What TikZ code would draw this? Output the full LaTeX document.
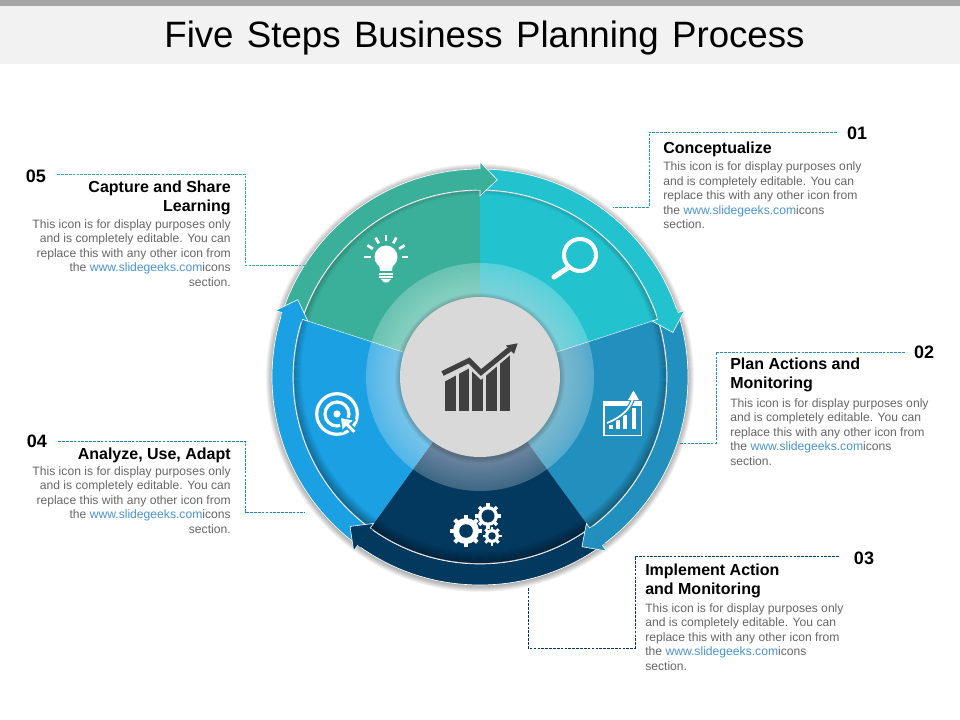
\documentclass[tikz,border=0pt]{standalone}
\usepackage{fontspec}
\setmainfont{Liberation Sans}
\usetikzlibrary{calc}
\definecolor{cteal}{HTML}{22C3CF}
\definecolor{cblue}{HTML}{2290BF}
\definecolor{cnavy}{HTML}{03395F}
\definecolor{csky}{HTML}{1AA0E3}
\definecolor{cgreen}{HTML}{3AAF9A}
\definecolor{bodygrey}{HTML}{666666}
\definecolor{linkblue}{HTML}{4A93CF}
\definecolor{chartgrey}{HTML}{404040}
\newcommand{\slink}{\textcolor{linkblue}{www.slidegeeks.com}icons}
\newcommand{\bodyL}{This icon is for display purposes only\\and is completely editable. You can\\replace this with any other icon from\\the \slink\\section.}
\tikzset{
  bodytext/.style={inner sep=0pt,text=bodygrey,font=\fontsize{9.1}{10.9}\selectfont},
  headtext/.style={inner sep=0pt,text=black,font=\fontsize{12}{14.3}\selectfont\bfseries},
  numtext/.style={inner sep=0pt,text=black,font=\fontsize{13.5}{15}\selectfont\bfseries},
  leader/.style={line width=0.6pt,dash pattern=on 2pt off 0.9pt},
  iconline/.style={draw=white,line cap=round},
}
\newcommand{\gearicon}[6]{% x y r tooth-r hole-r toothwidth
  \begin{scope}[shift={(#1,#2)}]
    \fill[white] (0,0) circle[radius=#3];
    \foreach \ga in {0,45,...,315}{\draw[white,line width=#6] (\ga:#3-1) -- (\ga:#4);}
    \fill[cnavy] (0,0) circle[radius=#5];
  \end{scope}}
\begin{document}
\begin{tikzpicture}[x=0.75pt,y=-0.75pt]
\useasboundingbox (0,0) rectangle (960,720);
\fill[white] (0,0) rectangle (960,720);
% title band
\fill[black!5] (0,6) rectangle (960,64);
\fill[black!35] (0,0) rectangle (960,6);
\node[anchor=base,inner sep=0pt,font=\fontsize{27.5}{30}\selectfont] (title) at (484.5,48) {\spaceskip=10pt Five Steps Business Planning Process};
% wheel
\begin{scope}[shift={(480,377)}]
\begin{scope}[y=0.75pt]
  % outer shadow
  \foreach \r in {214,213,...,208}{\fill[black,opacity=0.05] (0,-1) circle[radius=\r];}
  % arrow bands
  \foreach \a/\b/\c in {90/18/cteal,18/-54/cblue,-54/-126/cnavy,-126/-198/csky,162/90/cgreen}{
    \fill[\c] (\a:187) arc[start angle=\a,end angle=\b,radius=187] -- (\b:208) arc[start angle=\b,end angle=\a,radius=208] -- cycle;
  }
  \draw[white,line width=0.5pt] (0,0) circle[radius=208];
  % sectors
  \foreach \a/\b/\c in {90/18/cteal,18/-54/cblue,-54/-126/cnavy,-126/-198/csky,162/90/cgreen}{
    \fill[\c] (0,0) -- (\a:186) arc[start angle=\a,end angle=\b,radius=186] -- cycle;
  }
  % inner shadow of the band
  \begin{scope}
    \clip (0,0) circle[radius=186];
    \foreach \i in {0,1,...,11}{
      \pgfmathsetmacro{\op}{0.32*(1-\i/12)}
      \pgfmathsetmacro{\rr}{190-\i}
      \draw[black,opacity=\op,line width=0.85pt] (0,4) circle[radius=\rr];
    }
  \end{scope}
  \draw[white,line width=0.5pt] (0,0) circle[radius=187];
  % separators
  \draw[white,line width=0.4pt,opacity=0.8] (18:80) -- (18:186);
  \draw[white,line width=0.4pt,opacity=0.8] (162:80) -- (162:186);
  % translucent ring
  \fill[white,opacity=0.24] (0,0) circle[radius=114];
  \foreach \r in {112,110,...,82}{\fill[white,opacity=0.02] (0,0) circle[radius=\r];}
  \foreach \r in {85,84,...,81}{\fill[black,opacity=0.04] (0,-1) circle[radius=\r];}
  % centre
  \fill[black!15] (0,0) circle[radius=80];
  % arrow heads
  \foreach \b/\c in {18/cteal,-54/cblue,-126/cnavy,162/csky,90/cgreen}{
    \pgfmathsetmacro{\t}{\b-5}
    \fill[\c] (\b:181) -- (\t:198) -- (\b:215) -- cycle;
    \fill[\c] (\b:187) arc[start angle=\b,end angle=\b+1,radius=187] -- (\b+1:208) arc[start angle=\b+1,end angle=\b,radius=208] -- cycle;
    \draw[white,line width=0.45pt,line join=miter] (\b:187) -- (\b:181) -- (\t:198) -- (\b:215) -- (\b:208);
  }
\end{scope}
\end{scope}
% centre chart icon
\begin{scope}
  \clip (440,381.5) -- (445,381.5) -- (469,368.5) -- (481,380) -- (511,354.5) -- (511,411) -- (440,411) -- cycle;
  \foreach \bx in {445,458.7,472.3,486,499.7}{\fill[chartgrey] (\bx,350) rectangle (\bx+10.7,410.7);}
\end{scope}
\draw[chartgrey,line width=3.8pt] (442.5,373.5) -- (469,360.5) -- (481,372.5) -- (511,348);
\fill[chartgrey] (517.7,343.3) -- (506,345.5) -- (514,354) -- cycle;
% bulb
\fill[white] (386,257) circle[radius=11.5];
\fill[white] (379,264) -- (393,264) -- (392,271) -- (380,271) -- cycle;
\foreach \yy in {272.6,275.9}{\fill[white] (379,\yy) rectangle (393,\yy+2);}
\fill[white] (381,279) -- (391,279) -- (388,282.5) -- (384,282.5) -- cycle;
\foreach \a in {0,32,62,90,118,148,180}{\draw[white,line width=2pt,shift={(386,257)}] (-\a:15.5) -- (-\a:22);}
% magnifier
\draw[white,line width=3pt] (580,255) circle[radius=16];
\draw[iconline,line width=3.8pt] (569,267) -- (554,277);
% chart tile
\draw[white,line width=1.3pt] (604,402) rectangle (641.5,435.5);
\fill[white] (603,401) rectangle (642,406);
\foreach \bx/\by in {609/425,616/420,623/415,632/408}{\fill[white] (\bx,\by) rectangle (\bx+4.2,429);}
\draw[cblue,line width=3pt] (607,423) .. controls (622,417) and (631,408) .. (633,398);
\draw[white,line width=1.3pt] (607,423) .. controls (622,417) and (631,408) .. (633,398);
\fill[white] (633.5,390.5) -- (628,400) -- (639,400) -- cycle;
% gears
\gearicon{466}{531}{13}{16}{6.8}{3pt}
\gearicon{488}{516}{10}{12.7}{6.5}{2.6pt}
\gearicon{492}{536}{7}{9.5}{3.8}{2.2pt}
% target
\draw[white,line width=2.4pt] (337,414) circle[radius=20.3];
\draw[white,line width=2.4pt] (337,414) circle[radius=12];
\fill[white] (337,414) circle[radius=3.6];
\fill[white,draw=csky,line width=1.2pt,line join=round] (340,417) -- (342,432) -- (346,427) -- (353,434) -- (357,431) -- (350,424) -- (355,420) -- cycle;
% panel 01
\node[numtext,anchor=center] (n1) at (857,133) {01};
\node[headtext,anchor=base west] (h1) at (663,154) {Conceptualize};
\node[bodytext,anchor=north west,align=left] (b1) at (663,161.5) {\bodyL};
\coordinate (e1) at (613,207);
\draw[leader,draw=cteal!80!black] (n1.west)++(-10,-1) -- (649,132) -- (649,207) -- (e1);
% panel 02
\node[numtext,anchor=center] (n2) at (924,352) {02};
\node[headtext,anchor=north west,align=left] (h2) at (730,358) {Plan Actions and\\Monitoring};
\node[bodytext,anchor=north west,align=left] (b2) at (730,398) {\bodyL};
\coordinate (e2) at (680,443);
\draw[leader,draw=cblue] (n2.west)++(-9,0) -- (716,352) -- (716,443) -- (e2);
% panel 03
\node[numtext,anchor=center] (n3) at (864,558) {03};
\node[headtext,anchor=north west,align=left] (h3) at (645,564) {Implement Action\\and Monitoring};
\node[bodytext,anchor=north west,align=left] (b3) at (645,603) {\bodyL};
\coordinate (e3) at (528,588);
\draw[leader,draw=cnavy] (n3.west)++(-15,-2) -- (635,556) -- (635,648) -- (528,648) -- (e3);
% panel 04
\node[numtext,anchor=center] (n4) at (37,441) {04};
\node[headtext,anchor=base east] (h4) at (231,459) {Analyze, Use, Adapt};
\node[bodytext,anchor=north east,align=right] (b4) at (231,466) {\bodyL};
\coordinate (e4) at (305,512);
\draw[leader,draw=csky!85!black] (n4.east)++(11,0) -- (245,441) -- (245,512) -- (e4);
% panel 05
\node[numtext,anchor=center] (n5) at (36,176) {05};
\node[headtext,anchor=north east,align=right] (h5) at (231,181) {Capture and Share\\Learning};
\node[bodytext,anchor=north east,align=right] (b5) at (231,219) {\bodyL};
\coordinate (e5) at (305,265);
\draw[leader,draw=cgreen] (n5.east)++(11,-2) -- (245,174) -- (245,265) -- (e5);
\end{tikzpicture}
\end{document}
